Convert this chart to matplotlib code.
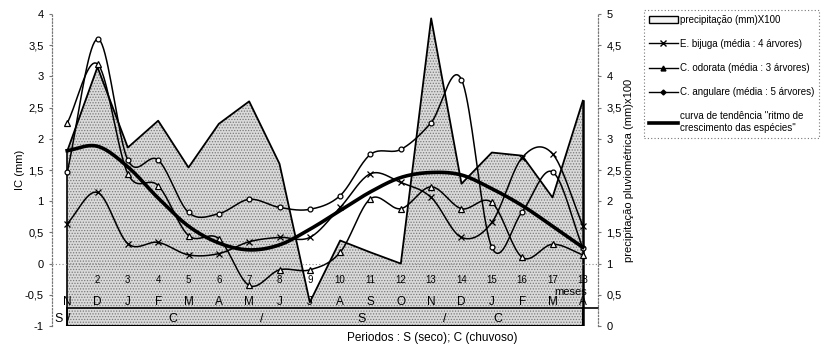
import matplotlib.pyplot as plt
import numpy as np
from matplotlib.lines import Line2D
from matplotlib.patches import Patch

plt.rcParams['font.family'] = ['Liberation Sans', 'DejaVu Sans']
plt.rcParams['hatch.color'] = '#7a7a7a'
plt.rcParams['hatch.linewidth'] = 0.6

# dados
meses = list(range(1, 19))
letras = ['N', 'D', 'J', 'F', 'M', 'A', 'M', 'J', 'J', 'A', 'S', 'O', 'N', 'D', 'J', 'F', 'M', 'A']
precip = [2.8, 4.15, 2.86, 3.29, 2.54, 3.24, 3.6, 2.6, 0.38, 1.37, 1.18, 1.0, 4.93, 2.28, 2.78, 2.73, 2.06, 3.61]
bijuga = [0.64, 1.14, 0.32, 0.34, 0.14, 0.16, 0.35, 0.42, 0.42, 0.9, 1.44, 1.30, 1.06, 0.42, 0.66, 1.7, 1.76, 0.61]
odorata = [2.25, 3.2, 1.44, 1.25, 0.45, 0.40, -0.35, -0.1, -0.1, 0.18, 1.04, 0.88, 1.23, 0.88, 0.98, 0.1, 0.31, 0.14]
angulare = [1.46, 3.6, 1.66, 1.66, 0.82, 0.80, 1.03, 0.90, 0.87, 1.09, 1.75, 1.83, 2.26, 2.95, 0.26, 0.83, 1.47, 0.25]
tendencia = [1.81, 1.88, 1.55, 1.05, 0.6, 0.33, 0.22, 0.3, 0.55, 0.85, 1.15, 1.38, 1.46, 1.42, 1.2, 0.93, 0.6, 0.26]
periodos = [('S /', 0.85), ('C', 4.5), ('/', 7.4), ('S', 10.7), ('/', 13.45), ('C', 15.2)]


def suavizar(x, y, n=20):
    # linha suavizada tipo Excel (Catmull-Rom)
    x = np.asarray(x, float)
    y = np.asarray(y, float)
    px = np.concatenate([[2 * x[0] - x[1]], x, [2 * x[-1] - x[-2]]])
    py = np.concatenate([[2 * y[0] - y[1]], y, [2 * y[-1] - y[-2]]])
    xs, ys = [], []
    t = np.linspace(0, 1, n, endpoint=False)
    for i in range(1, len(px) - 2):
        for p, out in ((px, xs), (py, ys)):
            p0, p1, p2, p3 = p[i - 1], p[i], p[i + 1], p[i + 2]
            out.extend(0.5 * (2 * p1 + (-p0 + p2) * t + (2 * p0 - 5 * p1 + 4 * p2 - p3) * t ** 2
                              + (-p0 + 3 * p1 - 3 * p2 + p3) * t ** 3))
    xs.append(x[-1])
    ys.append(y[-1])
    return np.array(xs), np.array(ys)


fig = plt.figure(figsize=(8.28, 3.47), dpi=100)
ax = fig.add_axes([52 / 828, 1 - 326 / 347, 546 / 828, 312 / 347])
ax2 = ax.twinx()
ax.set_zorder(ax2.get_zorder() + 1)
ax.patch.set_visible(False)

# precipitação (eixo da direita)
ax2.fill_between(meses, 0, precip, facecolor='#dadada', hatch='......', edgecolor='none', lw=0)
ax2.plot(meses, precip, color='black', lw=1.3)
ax2.plot([meses[0], meses[0]], [0, precip[0]], color='black', lw=1.2)
ax2.plot([meses[-1], meses[-1]], [0, precip[-1]], color='black', lw=1.8)
ax2.set_ylim(0, 5)
ax2.set_xlim(0.5, 18.5)
ax2.set_yticks(np.arange(0, 5.01, 0.5))
ax2.set_yticklabels([('%g' % v).replace('.', ',') for v in np.arange(0, 5.01, 0.5)], fontsize=8)
ax2.set_ylabel('precipitação pluviométrica (mm)x100', fontsize=8, labelpad=2)

# espécies
for serie, mk, ms in ((bijuga, 'x', 4.5), (odorata, '^', 4), (angulare, 'o', 3.5)):
    sx, sy = suavizar(meses, serie)
    ax.plot(sx, sy, color='black', lw=1.1)
    ax.plot(meses, serie, ls='none', marker=mk, ms=ms, mfc='white', mec='black', mew=0.9)
tx, ty = suavizar(meses, tendencia)
ax.plot(tx, ty, color='black', lw=2.6)

ax.set_xlim(0.5, 18.5)
ax.set_ylim(-1, 4)
yt = np.arange(-1, 4.01, 0.5)
ax.set_yticks(yt)
ax.set_yticklabels([('%g' % v).replace('.', ',') for v in yt], fontsize=8)
ax.set_ylabel('IC (mm)', fontsize=8, labelpad=0)
ax.set_xticks([])
ax.axhline(0, color='#888888', lw=0.8, ls=(0, (1, 2)))

for a in (ax, ax2):
    for s in ('top', 'bottom'):
        a.spines[s].set_visible(False)
    for s in ('left', 'right'):
        a.spines[s].set_linestyle((0, (1, 2)))
        a.spines[s].set_color('#777777')
        a.spines[s].set_linewidth(0.8)
    a.tick_params(axis='y', length=2, color='#777777', pad=4)

# tabela de meses e períodos
for m in meses[1:]:
    ax.text(m, -0.26, str(m), ha='center', va='center', fontsize=7)
for m, l in zip(meses, letras):
    ax.text(m, -0.61, l, ha='center', va='center', fontsize=8.5)
ax.text(17.6, -0.45, 'meses', ha='center', va='center', fontsize=8)
for t, m in periodos:
    ax.text(m, -0.88, t, ha='center', va='center', fontsize=9)
ax.plot([1, 18.5], [-0.705, -0.705], color='black', lw=1.2, clip_on=False)
ax.plot([1, 18, 18], [-0.995, -0.995, -0.705], color='black', lw=1.5)
ax.plot([1, 1], [-0.995, -0.705], color='black', lw=1.2)
fig.text(432 / 828, 1 - 338 / 347, 'Periodos : S (seco); C (chuvoso)', ha='center', va='center', fontsize=8.5)

handles = [
    Patch(facecolor='#f4f4f4', edgecolor='black', lw=1),
    Line2D([], [], color='black', lw=1, marker='x', ms=4),
    Line2D([], [], color='black', lw=1, marker='^', ms=3.5, mfc='black'),
    Line2D([], [], color='black', lw=1, marker='D', ms=2.5, mfc='black'),
    Line2D([], [], color='black', lw=2.6),
]
labels = ['precipitação (mm)X100', 'E. bijuga (média : 4 árvores)', 'C. odorata (média : 3 árvores)',
          'C. angulare (média : 5 árvores)', 'curva de tendência "ritmo de\ncrescimento das espécies"']
leg = fig.legend(handles, labels, loc='upper left', bbox_to_anchor=(639 / 828, 1 - 5 / 347),
                 fontsize=7, handlelength=3, handletextpad=0.2, labelspacing=1.45,
                 borderpad=0.5, fancybox=False, framealpha=1)
leg.get_frame().set_linestyle((0, (1, 2)))
leg.get_frame().set_edgecolor('#777777')
leg.get_frame().set_linewidth(0.8)

fig.savefig('out.png', dpi=100)
